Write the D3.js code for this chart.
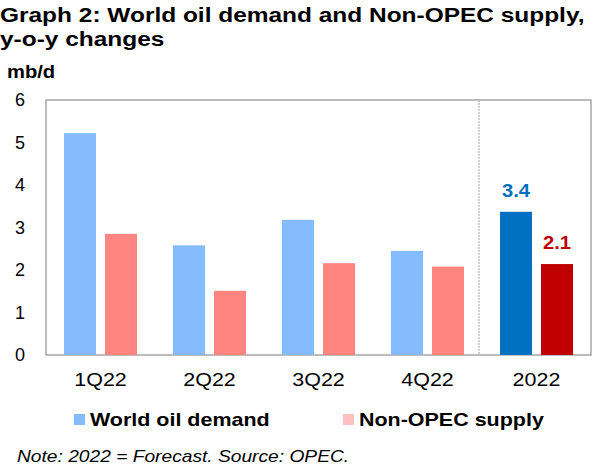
<!DOCTYPE html>
<html>
<head>
<meta charset="utf-8">
<script src="https://cdn.jsdelivr.net/npm/d3@7"></script>
<style>
  body { margin: 0; background: #fff; }
  text { font-family: "Liberation Sans", Arial, sans-serif; }
</style>
</head>
<body>
<div class="canvas"></div>
<script>
const categories = ["1Q22", "2Q22", "3Q22", "4Q22", "2022"];
const demand = [5.22, 2.58, 3.18, 2.45, 3.37];
const supply = [2.85, 1.51, 2.16, 2.08, 2.14];
const yTicks = [0, 1, 2, 3, 4, 5, 6];
const seriesNames = ["World oil demand", "Non-OPEC supply"];

const dims = {width: 600, height: 474};
const plot = {left: 46, right: 591, top: 100, bottom: 355};

const svg = d3.select(".canvas")
  .append("svg")
  .attr("width", dims.width)
  .attr("height", dims.height);

// the original graphic is a little wide, so stretch text horizontally around its anchor
const stretch = (sel, sx) => sel.each(function(){
  const t = d3.select(this);
  const x = +t.attr("x") || 0, yy = +t.attr("y") || 0;
  t.attr("transform", `translate(${x},${yy}) scale(${sx},1) translate(${-x},${-yy})`);
});

// title
svg.append("text").attr("x", 0).attr("y", 22)
  .attr("font-size", 21).attr("font-weight", "bold")
  .text("Graph 2: World oil demand and Non-OPEC supply,").call(stretch, 1.165);
svg.append("text").attr("x", 0).attr("y", 46)
  .attr("font-size", 21).attr("font-weight", "bold")
  .text("y-o-y changes").call(stretch, 1.165);
svg.append("text").attr("x", 7).attr("y", 78)
  .attr("font-size", 18).attr("font-weight", "bold")
  .text("mb/d").call(stretch, 1.12);

const x0 = d3.scaleBand().domain(categories).range([plot.left, plot.right]).padding(0);
const x1 = d3.scaleBand().domain(["demand", "supply"]).range([18, 91]).paddingInner(0.2195);
const y = d3.scaleLinear().domain([0, 6]).range([plot.bottom, plot.top]);

// plot frame
svg.append("rect")
  .attr("x", plot.left).attr("y", plot.top)
  .attr("width", plot.right - plot.left).attr("height", plot.bottom - plot.top)
  .attr("fill", "none").attr("stroke", "#a6a6a6").attr("stroke-width", 1.5);

// forecast separator
svg.append("line")
  .attr("x1", x0("2022") - 3).attr("x2", x0("2022") - 3)
  .attr("y1", plot.top).attr("y2", plot.bottom)
  .attr("stroke", "#a6a6a6").attr("stroke-width", 1)
  .attr("stroke-dasharray", "2,1");

// y axis labels
const yAxis = d3.axisLeft(y).tickValues(yTicks).tickFormat(d3.format("d")).tickSize(0).tickPadding(21);
const yG = svg.append("g").attr("transform", `translate(${plot.left},0)`).call(yAxis);
yG.select(".domain").remove();
yG.selectAll("text").attr("font-size", 18).attr("fill", "#000")
  .attr("font-family", "Liberation Sans, Arial, sans-serif");

// x axis labels
const xAxis = d3.axisBottom(x0).tickSize(0).tickPadding(18);
const xG = svg.append("g").attr("transform", `translate(0,${plot.bottom})`).call(xAxis);
xG.select(".domain").remove();
xG.selectAll("text").attr("font-size", 19).attr("fill", "#000")
  .attr("font-family", "Liberation Sans, Arial, sans-serif")
  .attr("transform", "scale(1.13,1)");

const rows = categories.map((c, i) => ({cat: c, demand: demand[i], supply: supply[i], forecast: c === "2022"}));
const colors = {
  demand: d => d.forecast ? "#0070c0" : "#85bcff",
  supply: d => d.forecast ? "#c00000" : "#ff8580"
};

const groups = svg.append("g").selectAll("g")
  .data(rows).enter().append("g")
  .attr("transform", d => `translate(${x0(d.cat)},0)`);

["demand", "supply"].forEach(key => {
  groups.append("rect")
    .attr("x", x1(key))
    .attr("width", x1.bandwidth())
    .attr("y", d => y(d[key]))
    .attr("height", d => y(0) - y(d[key]))
    .attr("fill", colors[key]);
});

// labels on forecast bars
const fc = groups.filter(d => d.forecast);
fc.append("text")
  .attr("x", x1("demand") + x1.bandwidth() / 2)
  .attr("y", d => y(d.demand) - 15)
  .attr("text-anchor", "middle").attr("font-size", 18).attr("font-weight", "bold")
  .attr("fill", "#0070c0")
  .text(d => d.demand.toFixed(1)).call(stretch, 1.12);
fc.append("text")
  .attr("x", x1("supply") + x1.bandwidth() / 2)
  .attr("y", d => y(d.supply) - 15)
  .attr("text-anchor", "middle").attr("font-size", 18).attr("font-weight", "bold")
  .attr("fill", "#c00000")
  .text(d => (Math.floor(d.supply * 10) / 10).toFixed(1)).call(stretch, 1.12);

// legend
const legendItems = [
  {name: seriesNames[0], color: "#85bcff", x: 74},
  {name: seriesNames[1], color: "#ffc0c0", x: 343}
];
const legend = svg.append("g").selectAll("g")
  .data(legendItems).enter().append("g")
  .attr("transform", d => `translate(${d.x},414)`);
legend.append("rect").attr("width", 11).attr("height", 11).attr("fill", d => d.color);
legend.append("text").attr("x", 16).attr("y", 12)
  .attr("font-size", 19).attr("font-weight", "bold")
  .text(d => d.name).call(stretch, 1.13);

// note
svg.append("text").attr("x", 17).attr("y", 462)
  .attr("font-size", 16).attr("font-style", "italic")
  .text("Note: 2022 = Forecast. Source: OPEC.").call(stretch, 1.2);
</script>
</body>
</html>
